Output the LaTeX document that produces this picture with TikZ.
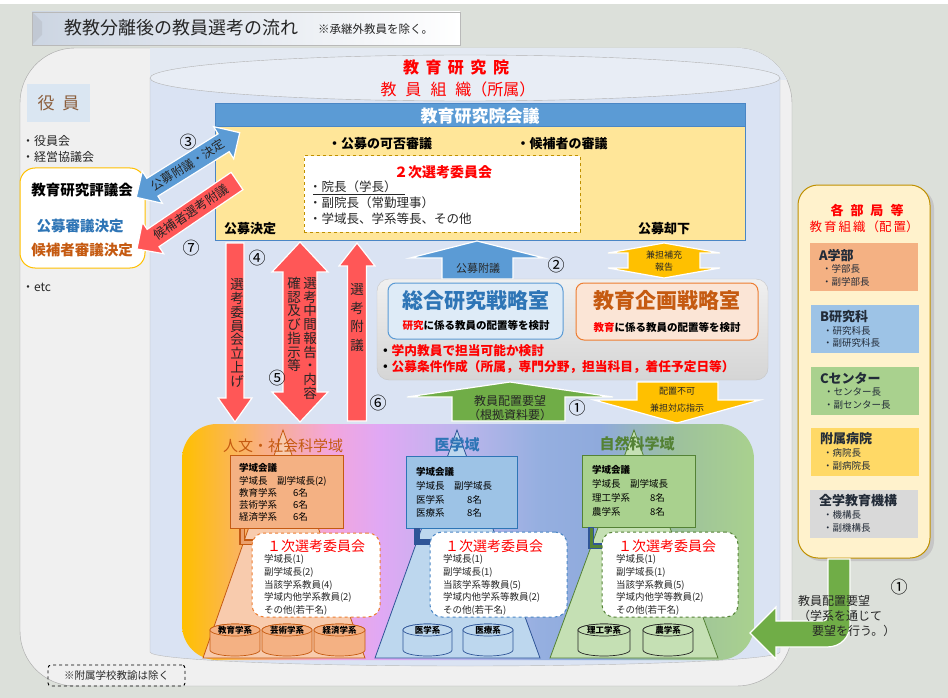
\documentclass[tikz,border=0pt]{standalone}
\usepackage{fontspec}
\setmainfont{Noto Sans CJK JP}
\usetikzlibrary{calc}
\newcommand{\fsz}[2]{\fontsize{#1}{#2}\selectfont}
\definecolor{bgc}{HTML}{DCE0DA}
\definecolor{titleL}{HTML}{CCD5E2}
\definecolor{panelfill}{HTML}{F0F0F0}
\definecolor{panelline}{HTML}{A6A6A6}
\definecolor{cyltop}{HTML}{E3E9F2}
\definecolor{cylbody}{HTML}{DAE3F3}
\definecolor{cylell}{HTML}{E8EDF5}
\definecolor{hdrblue}{HTML}{5B9BD5}
\definecolor{hdrline}{HTML}{4A86C5}
\definecolor{ybody}{HTML}{FFE699}
\definecolor{goldd}{HTML}{BF9000}
\definecolor{goldl}{HTML}{FFC000}
\definecolor{redtxt}{HTML}{FF0000}
\definecolor{arrred}{HTML}{FF5757}
\definecolor{arrblue}{HTML}{5B9BD5}
\definecolor{arrgreen}{HTML}{70AD47}
\definecolor{arrorange}{HTML}{FFC000}
\definecolor{bluetxt}{HTML}{2E75B6}
\definecolor{orgtxt}{HTML}{C55A11}
\definecolor{yakbg}{HTML}{DAE6F2}
\definecolor{yaktxt}{HTML}{8B5E3C}
\definecolor{darktxt}{HTML}{262626}
\definecolor{soboxfill}{HTML}{DEEBF7}
\definecolor{kyoboxfill}{HTML}{FBE5D6}
\definecolor{kyoboxline}{HTML}{ED7D31}
\definecolor{peach}{HTML}{F4B183}
\definecolor{peachl}{HTML}{F8CBAD}
\definecolor{bluem}{HTML}{9DC3E6}
\definecolor{bluel}{HTML}{BDD7EE}
\definecolor{blued}{HTML}{2F5597}
\definecolor{greenm}{HTML}{A9D18E}
\definecolor{greenl}{HTML}{C5E0B4}
\definecolor{greend}{HTML}{548235}
\definecolor{yellm}{HTML}{FFD966}
\definecolor{graym}{HTML}{D9D9D9}
\definecolor{rpanel}{HTML}{FFF2CC}
\definecolor{rboxtxt}{HTML}{222B38}
\definecolor{dA}{HTML}{FFC000}
\definecolor{dB}{HTML}{F9B080}
\definecolor{dC}{HTML}{F3A6DC}
\definecolor{dD}{HTML}{E0A8F4}
\definecolor{dE}{HTML}{BCB6EC}
\definecolor{dF}{HTML}{95AFE0}
\definecolor{dG}{HTML}{8FAADC}
\definecolor{dH}{HTML}{9EC29C}
\definecolor{dI}{HTML}{A9D18E}
\pgfdeclarehorizontalshading{domainshade}{100bp}{color(0bp)=(dA); color(25bp)=(dA); color(31.8bp)=(dB); color(37.9bp)=(dC); color(42.3bp)=(dD); color(49.3bp)=(dE); color(56.3bp)=(dF); color(61.5bp)=(dG); color(68.5bp)=(dH); color(75bp)=(dI); color(100bp)=(dI)}
\tikzset{
  every node/.style={inner sep=0pt, outer sep=0pt},
  redarr/.style={fill=arrred, draw=white, line width=1.2pt},
  bluearr/.style={fill=arrblue, draw=white, line width=1.2pt},
  greenarr/.style={fill=arrgreen, draw=white, line width=1.2pt},
  orgarr/.style={fill=arrorange, draw=white, line width=1.2pt},
  num/.style={font=\fsz{17}{19}, text=black},
  vtext/.style={align=center, font=\fsz{13.5}{13.75}, text=darktxt},
  arrtext/.style={font=\fsz{11}{13}, text=darktxt},
  smalltext/.style={font=\fsz{9}{11}, text=darktxt},
  kaigitext/.style={anchor=west, align=left, text=black},
  iinkai/.style={fill=white, rounded corners=12pt, dashed, line width=1pt},
  iinkaititle/.style={font=\fsz{14}{16}, text=redtxt},
  iinkaitext/.style={anchor=west, align=left, font=\fsz{9.5}{12.6}, text=darktxt},
  cyllabel/.style={font=\bfseries\fsz{8.5}{10}, text=black},
  rbox/.style={anchor=north west, minimum width=108pt, minimum height=48pt},
  rboxtitle/.style={anchor=west, font=\bfseries\fsz{13}{15}, text=rboxtxt},
  rboxsub/.style={anchor=west, font=\fsz{9.5}{11}, text=rboxtxt},
}
\newcommand{\minicyl}[6]{%
  \path[fill=#4, draw=#5, line width=0.7pt] ({#2-#3},630) -- ({#2-#3},650) arc[start angle=180, end angle=0, x radius=#3, y radius=6] -- ({#2+#3},630) arc[start angle=0, end angle=-180, x radius=#3, y radius=6] -- cycle;
  \draw[fill=#4, draw=#5, line width=0.7pt] (#2,630) ellipse[x radius=#3, y radius=6];
  \node[cyllabel] (#1) at (#2,630) {#6};
}
\begin{document}
\begin{tikzpicture}[x=1pt,y=-1pt]
\useasboundingbox (0,0) rectangle (948,698);
\fill[bgc] (0,0) rectangle (948,698);
\fill[white] (0,0) rectangle (948,4);

% ---------- title ----------
\shadedraw[left color=titleL, right color=white, draw=gray!55] (32,12) rectangle (460,45);
\fill[titleL!85!gray] (33,13) -- (42,22) -- (42,35) -- (33,44) -- cycle;
\node[anchor=west, font=\fsz{18}{20}, text=darktxt] (titletext) at (64,28) {教教分離後の教員選考の流れ};
\node[anchor=west, font=\fsz{11.5}{13}, text=darktxt] (titlenote) at (318,29) {※承継外教員を除く。};

% ---------- outer panel & cylinder ----------
\draw[draw=panelline, fill=panelfill, rounded corners=55pt] (20,48) rectangle (792,686);
\begin{scope}
  \clip[rounded corners=55pt] (20,48) rectangle (792,686);
  \fill[cyltop] (150,40) rectangle (800,80);
\end{scope}
\fill[cylbody] (150,78) -- (150,652) arc[start angle=180, end angle=0, x radius=315, y radius=14] -- (780,78) -- cycle;
\draw[gray!55] (150,78) -- (150,652) arc[start angle=180, end angle=0, x radius=315, y radius=14] -- (780,78);
\draw[gray!60, fill=cylell] (465,78) ellipse[x radius=315, y radius=23];
\node[font=\bfseries\fsz{16}{18}, text=redtxt] (inst) at (456,67) {教\hspace{6.5pt}育\hspace{6.5pt}研\hspace{6.5pt}究\hspace{6.5pt}院};
\node[font=\fsz{16}{18}, text=redtxt] (instsub) at (458,89) {教\hspace{9pt}員\hspace{9pt}組\hspace{9pt}織（所属）};

% ---------- left side ----------
\node[anchor=north west, fill=yakbg, minimum width=63pt, minimum height=38pt, font=\fsz{17}{19}, text=yaktxt] (yakuin) at (27,84) {役\hspace{8pt}員};
\node[anchor=west, font=\fsz{12}{14}, text=darktxt] (yk1) at (22,141) {・役員会};
\node[anchor=west, font=\fsz{12}{14}, text=darktxt] (yk2) at (22,157) {・経営協議会};
\node[anchor=north west, draw=goldl, fill=white, line width=1pt, rounded corners=15pt, minimum width=125pt, minimum height=100pt] (hyogi) at (20,168) {};
\node[font=\bfseries\fsz{14.5}{16}, text=black] (hyogiT) at (82,190) {教育研究評議会};
\node[font=\bfseries\fsz{14.5}{16}, text=bluetxt] (hyogi1) at (80,226) {公募審議決定};
\node[font=\bfseries\fsz{14.5}{16}, text=orgtxt] (hyogi2) at (82,250) {候補者審議決定};
\node[anchor=west, font=\fsz{12}{14}, text=darktxt] (yk3) at (22,287) {・etc};

% ---------- council box ----------
\node[anchor=north west, draw=hdrline, fill=ybody, line width=1pt, minimum width=530pt, minimum height=136pt] (council) at (215,104) {};
\node[anchor=north west, draw=hdrline, fill=hdrblue, line width=1pt, minimum width=530pt, minimum height=23pt] (councilhdr) at (215,104) {};
\node[font=\bfseries\fsz{17}{19}, text=white] (councilT) at (480,116) {教育研究院会議};
\node[font=\bfseries\fsz{13}{15}, text=black] (kahi) at (380,144) {・公募の可否審議};
\node[font=\bfseries\fsz{13}{15}, text=black] (kohosha) at (562,144) {・候補者の審議};
\node[anchor=north west, draw=goldd, dashed, fill=white, line width=1pt, minimum width=276pt, minimum height=76pt] (niji) at (304,156) {};
\node[font=\bfseries\fsz{14}{16}, text=redtxt] (nijiT) at (443,172) {２次選考委員会};
\node[anchor=west, font=\fsz{12.5}{14}, text=darktxt] (niji1) at (309,187) {・院長（学長）};
\draw[darktxt, line width=0.6pt] (niji1.south west) ++(4,1.5) -- ++(92,0);
\node[anchor=west, font=\fsz{12.5}{14}, text=darktxt] (niji2) at (309,203) {・副院長（常勤理事）};
\node[anchor=west, font=\fsz{12.5}{14}, text=darktxt] (niji3) at (309,219) {・学域長、学系等長、その他};
\node[font=\bfseries\fsz{13}{15}, text=black] (kettei) at (250,229) {公募決定};
\node[font=\bfseries\fsz{13}{15}, text=black] (kyakka) at (664,229) {公募却下};

% ---------- diagonal arrows (3) and (7) ----------
\begin{scope}[shift={(188,165)}, rotate=32]
  \draw[bluearr] (-61,0) -- (-42,19) -- (-42,10.5) -- (42,10.5) -- (42,19) -- (61,0) -- (42,-19) -- (42,-10.5) -- (-42,-10.5) -- (-42,-19) -- cycle;
\end{scope}
\node[rotate=32, font=\fsz{12}{14}, text=darktxt] (t3) at (188,165) {公募附議・決定};
\begin{scope}[shift={(187,215)}, rotate=34.2]
  \draw[redarr] (-60.5,0) -- (-41,19) -- (-41,10.5) -- (60.5,10.5) -- (60.5,-10.5) -- (-41,-10.5) -- (-41,-19) -- cycle;
\end{scope}
\node[rotate=34.2, font=\fsz{12.5}{14}, text=darktxt] (t7) at (191,212) {候補者選考附議};
\node[num] (n3) at (188,142) {③};
\node[num] (n7) at (191,248) {⑦};

% ---------- vertical red arrows ----------
\draw[redarr] (226,243) -- (244,243) -- (244,398) -- (252,398) -- (235,422) -- (218,398) -- (226,398) -- cycle;
\node[vtext] (t4) at (237,333) {選\\考\\委\\員\\会\\立\\上\\げ};
\node[num] (n4) at (257,258) {④};
\draw[redarr] (300,242) -- (328,272) -- (317,272) -- (317,392) -- (328,392) -- (300,422) -- (272,392) -- (283,392) -- (283,272) -- (272,272) -- cycle;
\node[vtext] (t5a) at (310,338.5) {選\\考\\中\\間\\報\\告\\・\\内\\容};
\node[vtext] (t5b) at (294,324.5) {確\\認\\及\\び\\指\\示\\等};
\node[num] (n5) at (277,378) {⑤};
\draw[redarr] (357,243) -- (375,266) -- (366.5,266) -- (366.5,421) -- (347.5,421) -- (347.5,266) -- (339,266) -- cycle;
\node[vtext, font=\fsz{13.5}{18.7}] (t6) at (357,317.5) {選\\考\\附\\議};
\node[num] (n6) at (378,403) {⑥};

% ---------- blue up arrow & orange double arrow ----------
\draw[bluearr] (477,241) -- (544,258) -- (513,258) -- (513,279) -- (442,279) -- (442,258) -- (410,258) -- cycle;
\node[arrtext] (t2) at (478,268) {公募附議};
\node[num] (n2) at (556,265) {②};
\draw[orgarr] (664,243) -- (720,253) -- (700,253) -- (700,268) -- (720,268) -- (664,278) -- (608,268) -- (628,268) -- (628,253) -- (608,253) -- cycle;
\node[smalltext, align=center, font=\fsz{9}{12.5}] (kenpo) at (664,261) {兼担補充\\報告};

% ---------- strategy box ----------
\node[anchor=north west, draw=gray!45, top color=gray!12, bottom color=gray!33, rounded corners=12pt, minimum width=391pt, minimum height=101pt] (strat) at (377,279) {};
\node[anchor=north west, draw=hdrblue, fill=soboxfill, line width=1pt, rounded corners=8pt, minimum width=175pt, minimum height=56pt] (sogo) at (388,283) {};
\node[font=\bfseries\fsz{21}{23}, text=bluetxt] (sogoT) at (476,301) {総合研究戦略室};
\node[font=\bfseries\fsz{10.5}{12}, text=black] (sogoS) at (476,326) {{\color{redtxt}研究}に係る教員の配置等を検討};
\node[anchor=north west, draw=kyoboxline, fill=kyoboxfill, line width=1pt, rounded corners=8pt, minimum width=182pt, minimum height=57pt] (kyo) at (576,283) {};
\node[font=\bfseries\fsz{21}{23}, text=orgtxt] (kyoT) at (667,301) {教育企画戦略室};
\node[font=\bfseries\fsz{10.5}{12}, text=black] (kyoS) at (667,327) {{\color{redtxt}教育}に係る教員の配置等を検討};
\node[anchor=west, font=\bfseries\fsz{12.7}{14}, text=redtxt] (s1) at (379,351) {{\color{black}・}学内教員で担当可能か検討};
\node[anchor=west, font=\bfseries\fsz{12.7}{14}, text=redtxt] (s2) at (379,367) {{\color{black}・}公募条件作成（所属，専門分野，担当科目，着任予定日等）};

% ---------- green up arrow & orange down arrow ----------
\draw[greenarr] (510,382) -- (613,397) -- (565,397) -- (565,421) -- (452,421) -- (452,397) -- (407,397) -- cycle;
\node[font=\fsz{12}{14}, text=darktxt] (t1a) at (510,401) {教員配置要望};
\node[font=\fsz{12}{14}, text=darktxt] (t1b) at (510,415) {（根拠資料要）};
\node[num] (n1) at (577,408) {①};
\draw[orgarr] (637,382) -- (718,382) -- (718,400) -- (760,400) -- (677,423) -- (594,400) -- (637,400) -- cycle;
\node[smalltext] (fuka1) at (677,391) {配置不可};
\node[smalltext] (fuka2) at (677,408) {兼担対応指示};

% ---------- domains ----------
\shade[shading=domainshade, rounded corners=35pt] (182,424) rectangle (754,660);
\draw[fill=peachl, draw=orgtxt, line width=0.8pt] (283,430) -- (365,658) -- (203,658) -- cycle;
\draw[fill=bluel, draw=blued, line width=0.8pt] (457,430) -- (540,658) -- (375,658) -- cycle;
\draw[fill=greenl, draw=greend, line width=0.8pt] (634,430) -- (718,658) -- (550,658) -- cycle;
\node[font=\fsz{15}{17}, text=orgtxt] (d1) at (283,446) {人文・社会科学域};
\node[font=\bfseries\fsz{15}{17}, text=bluetxt] (d2) at (457,445) {医学域};
\node[font=\bfseries\fsz{15}{17}, text=greend] (d3) at (637,444) {自然科学域};

\node[anchor=north west, fill=peach, draw=orgtxt, line width=0.8pt, minimum width=113pt, minimum height=73pt] (k1) at (230,455) {};
\node[kaigitext, font=\fsz{9.5}{12.1}] (k1t) at (239,492.5) {{\bfseries 学域会議}\\学域長　副学域長(2)\\\makebox[54pt][l]{教育学系}6名\\\makebox[54pt][l]{芸術学系}6名\\\makebox[54pt][l]{経済学系}6名};
\node[anchor=north west, fill=bluem, draw=bluetxt, line width=0.8pt, minimum width=111pt, minimum height=72pt] (k2) at (406,456) {};
\node[kaigitext, font=\fsz{9.5}{13.8}] (k2t) at (416,492.5) {{\bfseries 学域会議}\\学域長　副学域長\\\makebox[51pt][l]{医学系}8名\\\makebox[51pt][l]{医療系}8名};
\node[anchor=north west, fill=greenm, draw=greend, line width=0.8pt, minimum width=113pt, minimum height=72pt] (k3) at (582,455) {};
\node[kaigitext, font=\fsz{9.5}{13.9}] (k3t) at (592,491) {{\bfseries 学域会議}\\学域長　副学域長\\\makebox[58pt][l]{理工学系}8名\\\makebox[58pt][l]{農学系}8名};

\draw[draw=orgtxt, line width=6pt] ($(k1.south west)+(12,0)$) |- (258,542);
\draw[draw=peach!80!orgtxt, line width=3pt] ($(k1.south west)+(12,0.5)$) |- (258,542);
\draw[draw=blued, line width=6pt] ($(k2.south west)+(11,0)$) |- (436,542);
\draw[draw=blued, line width=6pt] ($(k3.south west)+(9,0)$) |- (608,546);
\draw[draw=greend, line width=3pt] ($(k3.south west)+(9,0.5)$) |- (608,546);

\node[anchor=north west, iinkai, draw=kyoboxline, minimum width=128pt, minimum height=84pt] (c1) at (252,533) {};
\node[iinkaititle] (c1T) at (316,546) {１次選考委員会};
\node[iinkaitext] (c1t) at (264,585) {学域長(1)\\副学域長(2)\\当該学系教員(4)\\学域内他学系教員(2)\\その他(若干名)};
\node[anchor=north west, iinkai, draw=hdrline, minimum width=137pt, minimum height=85pt] (c2) at (430,532) {};
\node[iinkaititle] (c2T) at (494,546) {１次選考委員会};
\node[iinkaitext] (c2t) at (443,585) {学域長(1)\\副学域長(1)\\当該学系等教員(5)\\学域内他学系等教員(2)\\その他(若干名)};
\node[anchor=north west, iinkai, draw=greend, minimum width=136pt, minimum height=85pt] (c3) at (602,532) {};
\node[iinkaititle] (c3T) at (667,546) {１次選考委員会};
\node[iinkaitext] (c3t) at (616,585) {学域長(1)\\副学域長(1)\\当該学系教員(5)\\学域内他学等教員(2)\\その他(若干名)};

\minicyl{cy1}{235}{25}{peach}{orgtxt}{教育学系}
\minicyl{cy2}{287}{25}{peach}{orgtxt}{芸術学系}
\minicyl{cy3}{339.5}{25.5}{peach}{orgtxt}{経済学系}
\minicyl{cy4}{427.5}{24.5}{bluel}{blued}{医学系}
\minicyl{cy5}{488}{25}{bluel}{blued}{医療系}
\minicyl{cy6}{604}{26}{greenl}{darktxt}{理工学系}
\minicyl{cy7}{668}{25}{greenl}{darktxt}{農学系}

% ---------- right panel ----------
\fill[gray!45, rounded corners=20pt] (801,188) rectangle (934,561);
\node[anchor=north west, draw=goldd, fill=rpanel, line width=1pt, rounded corners=20pt, minimum width=132pt, minimum height=373pt] (rp) at (798,185) {};
\node[font=\bfseries\fsz{13}{15}, text=redtxt] (rpT) at (867,210) {各\hspace{7pt}部\hspace{7pt}局\hspace{7pt}等};
\node[font=\fsz{12.5}{14}, text=redtxt] (rpS) at (864,227) {教\hspace{2pt}育\hspace{2pt}組\hspace{2pt}織\hspace{1pt}（配\hspace{2pt}置）};
\node[rbox, fill=peach] (ra) at (810,243) {};
\node[rboxtitle] (raT) at (819,256) {A学部};
\node[rboxsub] (ra1) at (822,269) {・学部長};
\node[rboxsub] (ra2) at (822,282) {・副学部長};
\node[rbox, fill=bluem] (rb) at (811,305) {};
\node[rboxtitle] (rbT) at (820,317) {B研究科};
\node[rboxsub] (rb1) at (823,331) {・研究科長};
\node[rboxsub] (rb2) at (823,343) {・副研究科長};
\node[rbox, fill=greenm] (rc) at (811,367) {};
\node[rboxtitle] (rcT) at (820,378) {Cセンター};
\node[rboxsub] (rc1) at (824,392) {・センター長};
\node[rboxsub] (rc2) at (824,405) {・副センター長};
\node[rbox, fill=yellm] (rd) at (811,428) {};
\node[rboxtitle] (rdT) at (820,439) {附属病院};
\node[rboxsub] (rd1) at (823,453) {・病院長};
\node[rboxsub] (rd2) at (823,466) {・副病院長};
\node[rbox, fill=graym] (re) at (810,490) {};
\node[rboxtitle] (reT) at (819,501) {全学教育機構};
\node[rboxsub] (re1) at (823,515) {・機構長};
\node[rboxsub] (re2) at (823,528) {・副機構長};

% ---------- green bent arrow ----------
\draw[greenarr] (828,559) -- (850,559) -- (850,624) .. controls (850,637) and (841,647) .. (827,647) -- (776,647) -- (776,659) -- (750,633) -- (776,607) -- (776,621) -- (822,621) .. controls (826,621) and (828,619) .. (828,615) -- cycle;
\node[anchor=west, font=\fsz{12}{14}, text=darktxt] (g1) at (798,601) {教員配置要望};
\node[anchor=west, font=\fsz{12}{14}, text=darktxt] (g2) at (798,616) {（学系を通じて};
\node[anchor=west, font=\fsz{12}{14}, text=darktxt] (g3) at (812,631) {要望を行う。）};
\node[num] (n1b) at (899,587) {①};

% ---------- footnote ----------
\node[anchor=north west, draw=black, dashed, line width=0.9pt, rounded corners=3pt, minimum width=137pt, minimum height=21pt, font=\fsz{10.5}{12}, text=darktxt] (foot) at (48,665) {※附属学校教諭は除く};
\end{tikzpicture}
\end{document}
